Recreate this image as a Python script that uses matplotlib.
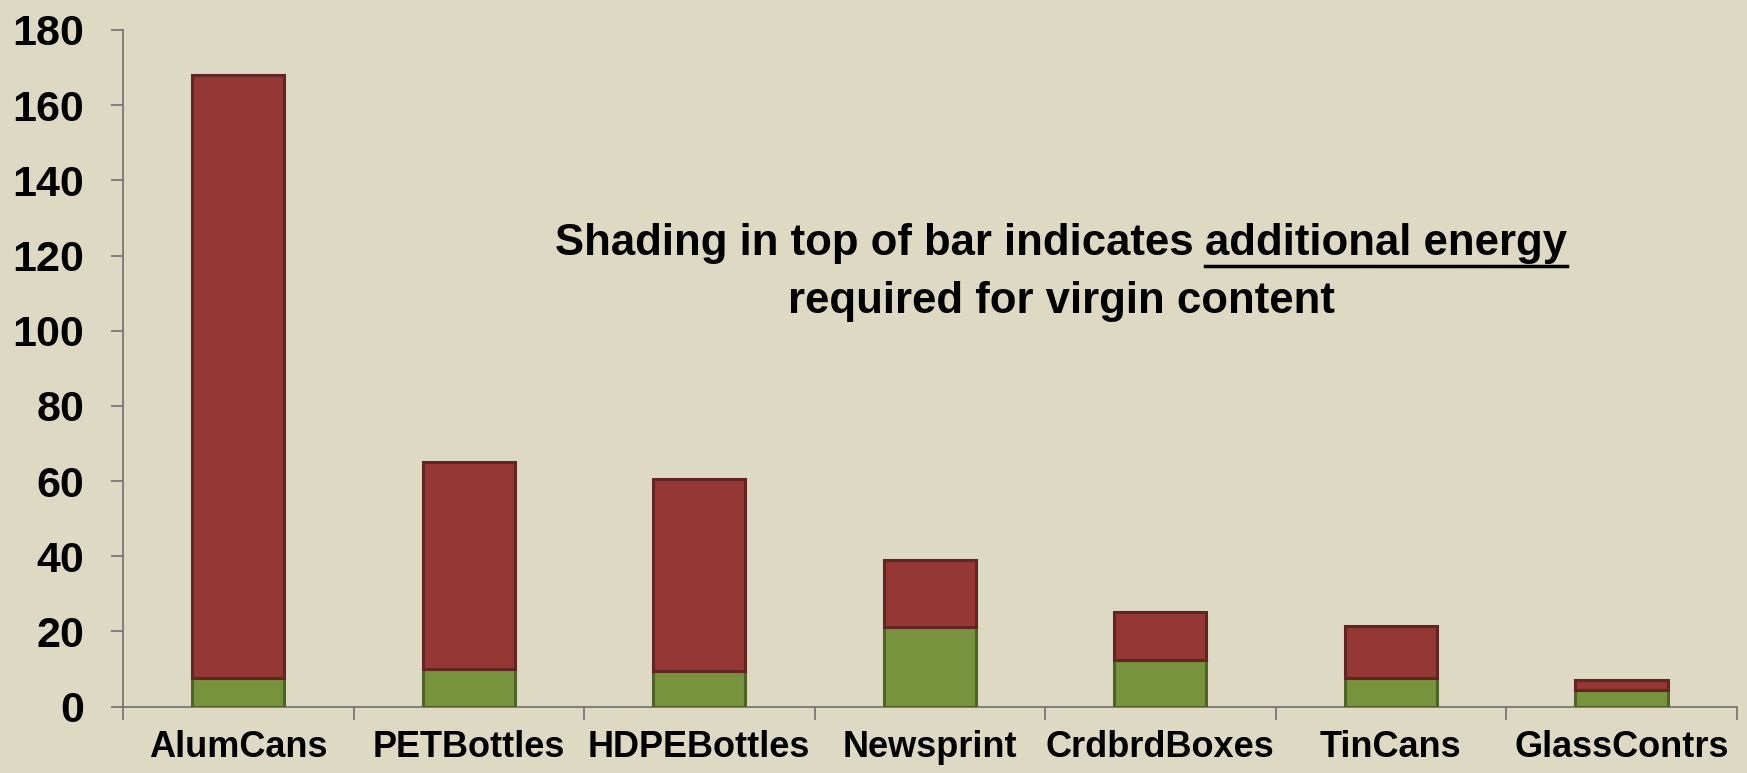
import numpy as np
import matplotlib
matplotlib.use("Agg")
import matplotlib.pyplot as plt
from matplotlib import font_manager

categories = ["AlumCans", "PETBottles", "HDPEBottles", "Newsprint", "CrdbrdBoxes", "TinCans", "GlassContrs"]
recycled = [7.6, 10.0, 9.5, 21.3, 12.4, 7.6, 4.4]
additional = [160.4, 55.0, 51.1, 17.7, 12.9, 13.9, 2.7]
yticks = [0, 20, 40, 60, 80, 100, 120, 140, 160, 180]

bg = "#DDD9C3"
green, green_edge = "#77933C", "#4F6228"
red, red_edge = "#953735", "#632523"

names = {f.name for f in font_manager.fontManager.ttflist}
narrow = "Liberation Sans Narrow" if "Liberation Sans Narrow" in names else "Liberation Sans"

plt.rcParams["font.family"] = ["Liberation Sans", "DejaVu Sans"]

fig = plt.figure(figsize=(17.47, 7.73), dpi=100, facecolor=bg)
ax = fig.add_axes([0.0704, 0.0858, 0.9237, 0.8754], facecolor=bg)

x = np.arange(len(categories))
ax.bar(x, recycled, width=0.4, color=green, edgecolor=green_edge, linewidth=2.2, zorder=3)
ax.bar(x, additional, width=0.4, bottom=recycled, color=red, edgecolor=red_edge, linewidth=2.2, zorder=3)

ax.set_xlim(-0.5, len(categories) - 0.5)
ax.set_ylim(0, 180)
ax.set_yticks(yticks)
ax.set_yticklabels([str(v) for v in yticks], fontsize=31, fontweight="bold")
ax.set_xticks(x)
ax.set_xticklabels(categories, fontsize=26, fontweight="bold")
ax.set_xticks(np.arange(-0.5, len(categories), 1), minor=True)

ax.tick_params(axis="x", which="major", length=0, pad=17)
ax.tick_params(axis="x", which="minor", length=9, width=1.2, color="#6F6F6F", direction="out")
ax.tick_params(axis="y", length=9, width=1.2, color="#6F6F6F", pad=19)

for side in ["top", "right"]:
    ax.spines[side].set_visible(False)
for side in ["left", "bottom"]:
    ax.spines[side].set_color("#6F6F6F")
    ax.spines[side].set_linewidth(1.2)

# annotation, second part of first line underlined
line1a = "Shading in top of bar indicates "
line1b = "additional energy"
line2 = "required for virgin content"
tsize = 31.5
renderer = fig.canvas.get_renderer()
ta = fig.text(0, 0, line1a, fontsize=tsize, fontweight="bold", family=narrow)
tb = fig.text(0, 0, line1b, fontsize=tsize, fontweight="bold", family=narrow)
wa = ta.get_window_extent(renderer).width / fig.bbox.width
wb = tb.get_window_extent(renderer).width / fig.bbox.width
cx = 1061 / 1747
y1 = 1 - 243 / 773
left = cx - (wa + wb) / 2
ta.set_position((left, y1))
ta.set_va("center")
tb.set_position((left + wa, y1))
tb.set_va("center")
ul_y = 1 - 266 / 773
fig.add_artist(plt.Line2D([left + wa, left + wa + wb], [ul_y, ul_y], color="black", linewidth=2.5))
fig.text(cx, 1 - 302 / 773, line2, fontsize=tsize, fontweight="bold", family=narrow, ha="center", va="center")

fig.savefig("out.png", dpi=100, facecolor=bg)
